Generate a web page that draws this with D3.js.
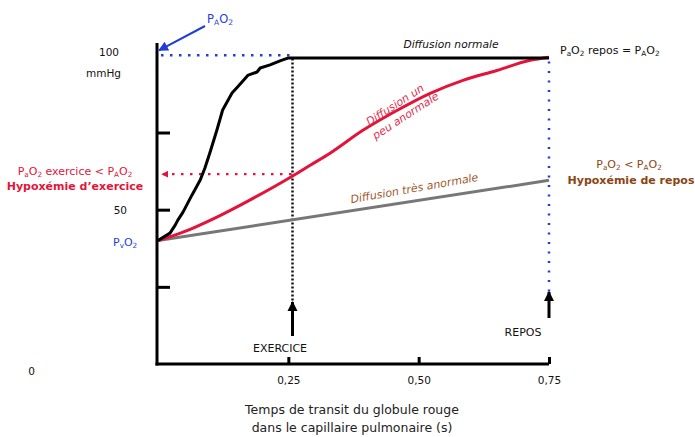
<!DOCTYPE html>
<html><head><meta charset="utf-8">
<script src="https://cdn.jsdelivr.net/npm/d3@7"></script>
<style>
body{margin:0;background:#fff}
svg{display:block;font-family:"DejaVu Sans",Verdana,sans-serif}
</style>
</head><body>
<svg id="chart" width="695" height="437"></svg>
<script>
// ---- data ----
const normalTime  = [0, 0.023, 0.033, 0.038, 0.048, 0.065, 0.081, 0.090, 0.100, 0.113, 0.124, 0.142, 0.153, 0.173, 0.190, 0.196, 0.215, 0.234, 0.249, 0.75];
const normalPO2   = [40, 42.4, 45, 46.6, 49.2, 54.7, 59.6, 63.5, 68.7, 75.8, 82.3, 87.8, 89.8, 93.6, 94.6, 95.9, 96.9, 98.2, 99.1, 99.1];
const slightTime  = [0, 0.048, 0.113, 0.176, 0.259, 0.292, 0.330, 0.393, 0.459, 0.522, 0.585, 0.650, 0.714, 0.75];
const slightPO2   = [40, 42.7, 47.6, 53.1, 61, 64.4, 68.3, 75.7, 82.2, 87.7, 91.9, 95.1, 98.4, 99.4];
const severeTime  = [0, 0.75];
const severePO2   = [40, 59.5];
const xTicks      = [0.25, 0.50, 0.75];
const xTickLabels = ["0,25", "0,50", "0,75"];
const yTicks      = [25, 50, 75];
const yLabelVals  = [0, 50, 100];
const yLabels     = ["0", "50", "100"];
const PAO2 = 100, PVO2 = 40;
const tExercise = 0.258, tRest = 0.75;
const PaO2Exercise = 61, PaO2RestSevere = 59.5;

// ---- setup ----
const svg = d3.select("#chart");
const x = d3.scaleLinear().domain([0, 0.75]).range([158, 549]);
const y = d3.scaleLinear().domain([0, 104]).range([364, 43]);

const BLUE = "#1f3fd4", RED = "#e3143a", BROWN = "#8a4513", GRAY = "#777";

const defs = svg.append("defs");
function marker(id, color, w, h) {
  defs.append("marker").attr("id", id).attr("viewBox", "0 0 10 10")
    .attr("refX", 9).attr("refY", 5).attr("markerWidth", w).attr("markerHeight", h)
    .attr("orient", "auto").attr("markerUnits", "userSpaceOnUse")
    .append("path").attr("d", "M0,0 L10,5 L0,10 Z").attr("fill", color);
}
marker("arrBlack", "#000", 10, 12);
marker("arrBlue", BLUE, 10, 10);
marker("arrRed", RED, 7, 7);

// rich text helper: parts = [[text, isSub], ...]
function rich(sel, parts, fs) {
  let prevSub = false;
  const sh = fs * 0.2;
  parts.forEach(([t, s]) => {
    const ts = sel.append("tspan").text(t);
    if (s && !prevSub) ts.attr("dy", sh).attr("font-size", fs * 0.66);
    else if (s) ts.attr("font-size", fs * 0.66);
    else if (!s && prevSub) ts.attr("dy", -sh);
    prevSub = s;
  });
  return sel;
}

// ---- dotted guide lines ----
svg.append("line")
  .attr("x1", x(0) + 3).attr("x2", x(tExercise) - 2)
  .attr("y1", y(PAO2)).attr("y2", y(PAO2))
  .attr("stroke", BLUE).attr("stroke-width", 2.5)
  .attr("stroke-dasharray", "2.5,6.5");

svg.append("line")
  .attr("x1", x(tExercise) - 1).attr("x2", x(0) + 4)
  .attr("y1", y(PaO2Exercise + 0.5)).attr("y2", y(PaO2Exercise + 0.5))
  .attr("stroke", RED).attr("stroke-width", 2.2)
  .attr("stroke-dasharray", "2.5,6.5")
  .attr("marker-end", "url(#arrRed)");

svg.append("line")
  .attr("x1", x(tExercise)).attr("x2", x(tExercise))
  .attr("y1", y(99)).attr("y2", 303)
  .attr("stroke", "#111").attr("stroke-width", 2.5)
  .attr("stroke-dasharray", "2,2");

svg.append("line")
  .attr("x1", x(tRest)).attr("x2", x(tRest))
  .attr("y1", y(98)).attr("y2", 292)
  .attr("stroke", BLUE).attr("stroke-width", 2.5)
  .attr("stroke-dasharray", "2,7.5");

// ---- curves ----
const line = d3.line().x(d => x(d[0])).y(d => y(d[1])).curve(d3.curveMonotoneX);
function zip(a, b) { return a.map((v, i) => [v, b[i]]); }
svg.append("path").datum(zip(severeTime, severePO2)).attr("d", line)
  .attr("fill", "none").attr("stroke", GRAY).attr("stroke-width", 3);
svg.append("path").datum(zip(slightTime, slightPO2)).attr("d", line)
  .attr("fill", "none").attr("stroke", RED).attr("stroke-width", 3);
svg.append("path").datum(zip(normalTime, normalPO2)).attr("d", d3.line().x(d => x(d[0])).y(d => y(d[1])))
  .attr("fill", "none").attr("stroke", "#000").attr("stroke-width", 3).attr("stroke-linejoin", "round");

// ---- axes ----
const xAxis = d3.axisBottom(x).tickValues(xTicks).tickFormat((d, i) => xTickLabels[i])
  .tickSize(-7).tickSizeOuter(0).tickPadding(13);
const gx = svg.append("g").attr("transform", `translate(0,${y(0)})`).call(xAxis);
gx.select(".domain").attr("d", `M${x(0) - 2.5},0H${x(0.75)}`).attr("stroke", "#000").attr("stroke-width", 3);
gx.selectAll(".tick line").attr("stroke", "#000").attr("stroke-width", 3);
gx.selectAll(".tick text").attr("font-size", 10.5).attr("font-family", "DejaVu Sans").attr("fill", "#111");

const yAxis = d3.axisRight(y).tickValues(yTicks).tickFormat("").tickSize(13).tickSizeOuter(0);
const gy = svg.append("g").attr("transform", `translate(${x(0) - 1},0)`).call(yAxis);
gy.select(".domain").attr("d", `M0,${y(104)}V${y(0) + 1.5}`).attr("stroke", "#000").attr("stroke-width", 3);
gy.selectAll(".tick line").attr("stroke", "#000").attr("stroke-width", 3);

// y labels
svg.append("text").attr("x", 35).attr("y", y(0) + 11).attr("text-anchor", "end")
  .attr("font-size", 10.5).attr("fill", "#111").text(yLabels[0]);
svg.append("text").attr("x", 127).attr("y", y(yLabelVals[1]) + 4).attr("text-anchor", "end")
  .attr("font-size", 10.5).attr("fill", "#111").text(yLabels[1]);
svg.append("text").attr("x", 119).attr("y", y(yLabelVals[2]) + 1).attr("text-anchor", "end")
  .attr("font-size", 10.5).attr("fill", "#111").text(yLabels[2]);
svg.append("text").attr("x", 121).attr("y", y(yLabelVals[2]) + 22).attr("text-anchor", "end")
  .attr("font-size", 10.5).attr("fill", "#111").text("mmHg");

// PvO2
rich(svg.append("text").attr("x", 113).attr("y", y(PVO2) + 5).attr("font-size", 11).attr("fill", BLUE),
  [["P", false], ["v", true], ["O", false], ["2", true]], 11);

// PAO2 arrow + label
svg.append("line").attr("x1", 205).attr("y1", 26).attr("x2", x(0) + 1).attr("y2", y(PAO2) - 5)
  .attr("stroke", BLUE).attr("stroke-width", 2).attr("marker-end", "url(#arrBlue)");
rich(svg.append("text").attr("x", 207).attr("y", 23).attr("font-size", 11.5).attr("fill", BLUE),
  [["P", false], ["A", true], ["O", false], ["2", true]], 11.5);

// Diffusion normale
svg.append("text").attr("x", 451).attr("y", 48).attr("text-anchor", "middle")
  .attr("font-size", 10.7).attr("font-style", "italic").attr("fill", "#111").text("Diffusion normale");

// PaO2 repos = PAO2
rich(svg.append("text").attr("x", 560).attr("y", 54).attr("font-size", 11).attr("fill", "#111"),
  [["P", false], ["a", true], ["O", false], ["2", true], [" repos = P", false], ["A", true], ["O", false], ["2", true]], 11);

// Diffusion un peu anormale (rotated)
const gRed = svg.append("g").attr("transform", "translate(397,108) rotate(-33)");
gRed.append("text").attr("text-anchor", "middle").attr("font-size", 11).attr("font-style", "italic")
  .attr("fill", "#e0304f").text("Diffusion un");
gRed.append("text").attr("text-anchor", "middle").attr("x", 3).attr("y", 15).attr("font-size", 11).attr("font-style", "italic")
  .attr("fill", "#e0304f").text("peu anormale");

// Diffusion très anormale
svg.append("text").attr("transform", "translate(415,192) rotate(-10)").attr("text-anchor", "middle")
  .attr("font-size", 11).attr("font-style", "italic").attr("fill", "#a0582a").text("Diffusion très anormale");

// left exercise annotation
rich(svg.append("text").attr("x", 75).attr("y", 175).attr("text-anchor", "middle").attr("font-size", 11).attr("fill", RED),
  [["P", false], ["a", true], ["O", false], ["2", true], [" exercice < P", false], ["A", true], ["O", false], ["2", true]], 11);
svg.append("text").attr("x", 75).attr("y", 190).attr("text-anchor", "middle").attr("font-size", 11)
  .attr("font-weight", "bold").attr("fill", RED).text("Hypoxémie d’exercice");

// right rest annotation
rich(svg.append("text").attr("x", 629).attr("y", 168).attr("text-anchor", "middle").attr("font-size", 11).attr("fill", BROWN),
  [["P", false], ["a", true], ["O", false], ["2", true], [" < P", false], ["A", true], ["O", false], ["2", true]], 11);
svg.append("text").attr("x", 631).attr("y", 184).attr("text-anchor", "middle").attr("font-size", 11)
  .attr("font-weight", "bold").attr("fill", BROWN).text("Hypoxémie de repos");

// arrows EXERCICE / REPOS
svg.append("line").attr("x1", x(tExercise)).attr("x2", x(tExercise)).attr("y1", 336).attr("y2", 302)
  .attr("stroke", "#000").attr("stroke-width", 3).attr("marker-end", "url(#arrBlack)");
svg.append("line").attr("x1", x(tRest)).attr("x2", x(tRest)).attr("y1", 318).attr("y2", 292)
  .attr("stroke", "#000").attr("stroke-width", 3).attr("marker-end", "url(#arrBlack)");
svg.append("text").attr("x", 280).attr("y", 352).attr("text-anchor", "middle").attr("font-size", 11)
  .attr("fill", "#111").text("EXERCICE");
svg.append("text").attr("x", 523).attr("y", 336).attr("text-anchor", "middle").attr("font-size", 11)
  .attr("fill", "#111").text("REPOS");

// x axis title
svg.append("text").attr("x", 352).attr("y", 414).attr("text-anchor", "middle").attr("font-size", 12.5)
  .attr("fill", "#222").text("Temps de transit du globule rouge");
svg.append("text").attr("x", 352).attr("y", 432).attr("text-anchor", "middle").attr("font-size", 12.5)
  .attr("fill", "#222").text("dans le capillaire pulmonaire (s)");
</script>
</body></html>
